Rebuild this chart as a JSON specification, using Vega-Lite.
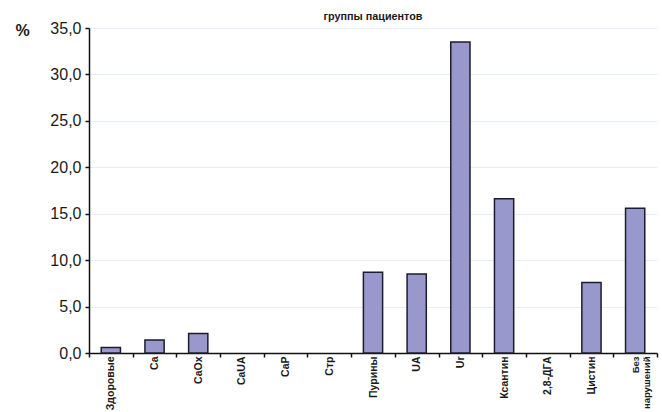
{
  "$schema": "https://vega.github.io/schema/vega-lite/v6.json",
  "autosize": {"type": "none"},
  "padding": {"left": 89, "top": 28, "right": 5, "bottom": 59},
  "width": 568,
  "height": 325,
  "background": "white",
  "config": {
    "view": {"stroke": null},
    "font": "Liberation Sans"
  },
  "title": {
    "text": "группы пациентов",
    "anchor": "middle",
    "fontSize": 10.8,
    "fontWeight": "bold",
    "font": "Liberation Sans",
    "color": "#1a1a1a",
    "offset": -2
  },
  "data": {
    "values": [
      {"group": "Здоровые", "pct": 0.6},
      {"group": "Ca", "pct": 1.4},
      {"group": "CaOx", "pct": 2.1},
      {"group": "CaUA", "pct": 0},
      {"group": "CaP", "pct": 0},
      {"group": "Стр", "pct": 0},
      {"group": "Пурины", "pct": 8.7},
      {"group": "UA", "pct": 8.5},
      {"group": "Ur", "pct": 33.5},
      {"group": "Ксантин", "pct": 16.6},
      {"group": "2,8-ДГА", "pct": 0},
      {"group": "Цистин", "pct": 7.6},
      {"group": "Без нарушений", "pct": 15.6}
    ]
  },
  "mark": {
    "type": "bar",
    "width": {"band": 0.44},
    "fill": "#9898cc",
    "stroke": "#1c1c2c",
    "strokeWidth": 1.5
  },
  "encoding": {
    "x": {
      "field": "group",
      "type": "nominal",
      "sort": null,
      "scale": {"paddingInner": 0, "paddingOuter": 0},
      "axis": {
        "title": null,
        "labelAngle": -90,
        "labelAlign": "right",
        "labelBaseline": "middle",
        "labelFontSize": {
          "condition": {"test": "datum.value == 'Без нарушений'", "value": 9.5},
          "value": 10.5
        },
        "labelFontWeight": "bold",
        "labelFont": "Liberation Sans",
        "labelColor": "#1a1a1a",
        "labelPadding": -1,
        "labelExpr": "datum.value == 'Без нарушений' ? ['Без', 'нарушений'] : datum.label",
        "tickBand": "extent",
        "tickSize": 4,
        "tickColor": "#111",
        "tickWidth": 1.5,
        "domainColor": "#111",
        "domainWidth": 1.5,
        "grid": false
      }
    },
    "y": {
      "field": "pct",
      "type": "quantitative",
      "scale": {"domain": [0, 35], "nice": false},
      "axis": {
        "values": [0, 5, 10, 15, 20, 25, 30, 35],
        "labelExpr": "replace(format(datum.value, '.1f'), '.', ',')",
        "labelFontSize": 16,
        "labelFont": "Liberation Sans",
        "labelColor": "#1a1a1a",
        "labelPadding": 4,
        "tickSize": 4,
        "tickColor": "#111",
        "tickWidth": 1.5,
        "domainColor": "#111",
        "domainWidth": 1.5,
        "grid": true,
        "gridColor": "#e6eef7",
        "gridWidth": 1,
        "title": "%",
        "titleAngle": 0,
        "titleFontSize": 16,
        "titleFontWeight": "bold",
        "titleFont": "Liberation Sans",
        "titleColor": "#1a1a1a",
        "titleAlign": "center",
        "titleBaseline": "middle",
        "titleX": -67,
        "titleY": 2
      }
    },
    "strokeOpacity": {
      "condition": {"test": "datum.pct > 0", "value": 1},
      "value": 0
    }
  }
}
